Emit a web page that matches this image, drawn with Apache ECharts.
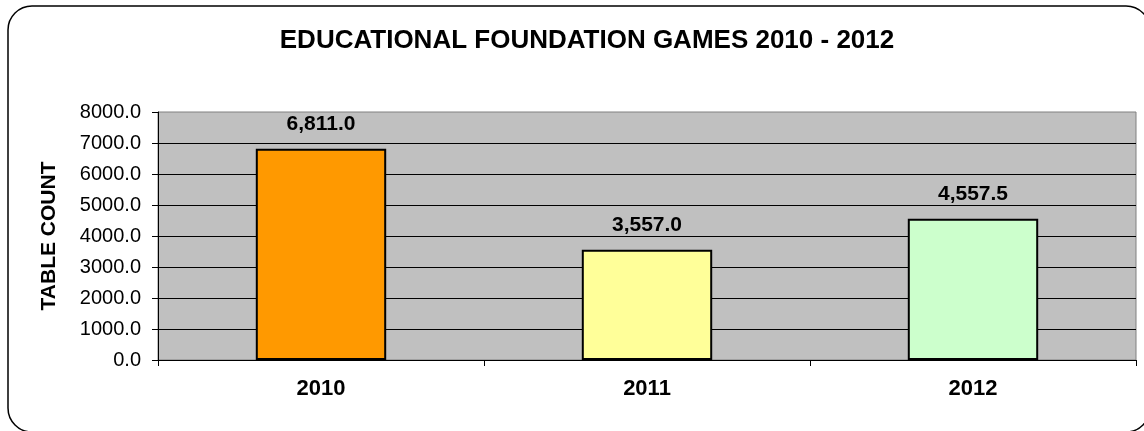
<!DOCTYPE html>
<html>
<head>
<meta charset="utf-8">
<style>
  html, body { margin: 0; padding: 0; background: #ffffff; }
  #chart { width: 1144px; height: 431px; }
</style>
<script src="https://cdn.jsdelivr.net/npm/echarts@6/dist/echarts.min.js"></script>
</head>
<body>
<div id="chart"></div>
<script>
// Table counts per year
const years = ['2010', '2011', '2012'];
const tableCounts = [6811.0, 3557.0, 4557.5];
const barColors = ['#FF9900', '#FFFF99', '#CCFFCC'];
const chartTitle = 'EDUCATIONAL FOUNDATION GAMES 2010 - 2012';
const yAxisTitle = 'TABLE COUNT';

const FONT = '"Liberation Sans", Arial, sans-serif';

const chart = echarts.init(document.getElementById('chart'), null, { renderer: 'canvas' });

chart.setOption({
  animation: false,
  backgroundColor: '#ffffff',
  textStyle: { fontFamily: FONT },
  graphic: [
    {
      type: 'rect',
      z: -10,
      silent: true,
      shape: { x: 8, y: 6, width: 1142, height: 426, r: 24 },
      style: { fill: '#ffffff', stroke: '#000000', lineWidth: 1.5 }
    }
  ],
  title: {
    text: chartTitle,
    left: 582,
    textAlign: 'center',
    top: 23,
    textStyle: { fontFamily: FONT, fontSize: 26, fontWeight: 'bold', color: '#000000' }
  },
  grid: {
    left: 158, right: 8, top: 112, bottom: 71,
    show: true,
    backgroundColor: '#C0C0C0',
    borderColor: '#808080',
    borderWidth: 1
  },
  xAxis: {
    type: 'category',
    data: years,
    axisLine: { show: true, lineStyle: { color: '#000000', width: 1 } },
    axisTick: { show: true, alignWithLabel: false, length: 6, lineStyle: { color: '#000000' } },
    axisLabel: { margin: 18, fontFamily: FONT, fontSize: 22, fontWeight: 'bold', color: '#000000' },
    splitLine: { show: false }
  },
  yAxis: {
    type: 'value',
    min: 0,
    max: 8000,
    interval: 1000,
    name: yAxisTitle,
    nameLocation: 'middle',
    nameRotate: 90,
    nameGap: 98,
    nameTextStyle: { fontFamily: FONT, fontSize: 21, fontWeight: 'bold', color: '#000000' },
    axisLine: { show: true, lineStyle: { color: '#000000', width: 1 } },
    axisTick: { show: true, length: 6, lineStyle: { color: '#000000' } },
    axisLabel: {
      margin: 17,
      fontFamily: FONT,
      fontSize: 20,
      color: '#000000',
      formatter: v => v.toFixed(1)
    },
    splitLine: { show: true, showMaxLine: false, lineStyle: { color: '#000000', width: 1 } }
  },
  series: [
    {
      type: 'bar',
      barWidth: '40%',
      data: tableCounts.map((v, i) => ({
        value: v,
        itemStyle: { color: barColors[i], borderColor: '#000000', borderWidth: 2 }
      })),
      label: {
        show: true,
        position: 'top',
        distance: 14,
        fontFamily: FONT,
        fontSize: 21,
        fontWeight: 'bold',
        color: '#000000',
        formatter: p => p.value.toLocaleString('en-US', { minimumFractionDigits: 1, maximumFractionDigits: 1 })
      }
    }
  ]
});
</script>
</body>
</html>
